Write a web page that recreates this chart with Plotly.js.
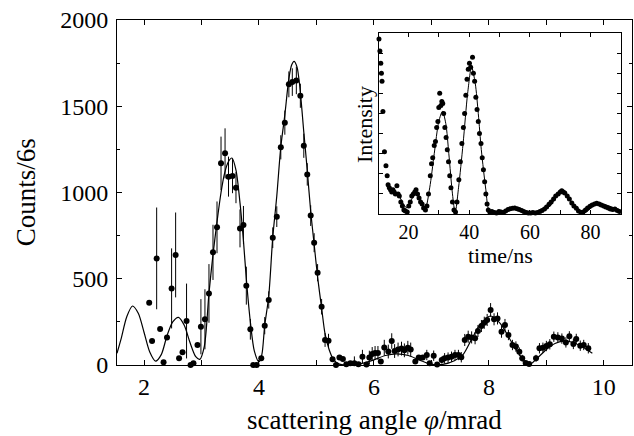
<!DOCTYPE html>
<html><head><meta charset="utf-8">
<script src="https://cdn.plot.ly/plotly-3.0.1.min.js"></script>
<style>body{margin:0;background:#fff}</style>
</head><body><div id="chart" style="width:634px;height:436px"></div>
<script>
// Main plot: measured counts vs scattering angle
const angleX = [2.09,2.14,2.22,2.28,2.34,2.40,2.48,2.55,2.61,2.67,2.74,2.81,2.86,2.93,2.99,3.06,3.13,3.20,3.27,3.34,3.41,3.47,3.54,3.60,3.67,3.73,3.78,3.85,3.90,3.96,4.04,4.10,4.17,4.24,4.31,4.38,4.45,4.52,4.58,4.65,4.72,4.78,4.84,4.90,4.96,5.02,5.09,5.15,5.21,5.28,5.34,5.40,5.46,5.52,5.59,5.66,5.73,5.80,5.87,5.92,5.97,6.02,6.07,6.12,6.18,6.25,6.31,6.36,6.42,6.48,6.53,6.59,6.64,6.72,6.78,6.85,6.92,6.97,7.04,7.10,7.18,7.23,7.29,7.35,7.41,7.47,7.52,7.58,7.64,7.70,7.76,7.81,7.87,7.92,7.97,8.03,8.09,8.15,8.22,8.28,8.34,8.41,8.47,8.53,8.58,8.64,8.70,8.82,8.88,8.94,9.00,9.06,9.13,9.20,9.27,9.34,9.40,9.47,9.52,9.59,9.65,9.73];
const counts = [361,139,618,209,16,160,444,638,39,74,255,0,10,116,222,265,415,653,798,1169,1227,1092,1096,1028,792,812,460,207,0,0,39,228,377,738,860,1262,1405,1627,1640,1650,1561,1271,1105,866,709,535,338,145,141,33,0,44,35,4,10,10,5,48,3,43,64,70,70,20,101,78,139,81,90,95,85,100,90,20,43,43,58,10,54,3,29,39,43,48,58,58,45,145,164,160,155,197,226,245,261,319,265,270,193,232,174,116,107,77,39,12,6,39,97,100,110,120,164,160,153,131,166,122,151,112,116,97];
const countErr = [0,0,295,0,0,0,232,246,0,0,217,0,0,0,160,174,170,160,150,155,145,116,100,90,110,110,110,60,0,0,0,50,50,60,60,70,70,75,80,80,70,70,65,60,55,50,45,40,40,0,0,0,0,0,0,40,0,40,0,40,40,40,40,0,45,40,45,40,40,40,40,40,40,0,0,0,30,0,30,0,20,30,30,30,30,30,30,35,35,35,35,35,35,35,35,40,35,35,35,35,30,30,30,25,20,0,0,20,30,30,30,30,30,30,30,30,30,30,30,30,30,30];
// Main plot: fitted curve
const fitX = [1.53,1.60,1.70,1.80,1.90,2.00,2.10,2.20,2.30,2.40,2.50,2.60,2.70,2.80,2.90,2.97,3.05,3.13,3.20,3.27,3.34,3.40,3.47,3.53,3.60,3.67,3.73,3.78,3.85,3.92,4.00,4.05,4.10,4.17,4.24,4.31,4.38,4.45,4.52,4.57,4.61,4.66,4.71,4.78,4.84,4.90,4.96,5.02,5.09,5.15,5.22,5.30,5.40,5.50,5.60,5.80,6.00,6.20,6.40,6.60,6.80,7.00,7.20,7.40,7.55,7.70,7.85,8.03,8.20,8.40,8.60,8.72,8.84,9.00,9.15,9.30,9.45,9.60,9.80];
const fitY = [68,150,280,342,300,190,75,22,60,170,250,276,230,130,48,33,110,415,640,830,1000,1110,1180,1200,1130,940,720,500,250,80,18,60,230,400,740,980,1265,1450,1660,1740,1760,1730,1615,1350,1130,890,700,510,330,180,90,30,5,0,2,10,30,55,64,55,28,4,4,25,60,150,235,284,240,130,30,5,39,90,125,138,132,110,68];
// Inset: time spectrum
const timeT = [10.3,10.6,10.9,11.1,11.3,11.6,12.1,12.6,13.0,13.3,13.7,14.1,14.5,14.9,15.3,15.7,16.2,16.6,17.0,17.5,18.0,18.5,19.0,19.6,20.1,20.6,21.1,21.6,22.1,22.5,23.0,23.5,24.0,24.5,25.0,25.6,26.1,26.6,27.2,27.6,28.0,28.5,28.9,29.3,29.7,30.0,30.3,30.7,31.0,31.3,31.6,32.0,32.4,32.8,33.2,33.6,34.0,34.5,35.0,35.5,36.0,36.6,37.1,37.6,38.1,38.5,38.9,39.3,39.7,40.1,40.5,41.1,41.4,41.8,42.2,42.6,43.0,43.4,43.9,44.3,44.7,45.1,45.5,45.9,46.3,46.8,47.5,48.3,49.0,49.8,50.5,51.3,52.0,52.8,53.5,54.3,55.0,55.8,56.5,57.3,58.0,58.8,59.5,60.3,61.0,61.8,62.5,63.3,64.0,64.8,65.5,66.3,67.0,67.8,68.5,69.3,70.0,70.5,71.0,71.5,72.3,73.0,73.8,74.5,75.3,76.0,76.8,77.5,78.3,79.0,79.8,80.5,81.3,82.0,82.8,83.5,84.3,85.0,85.8,86.5,87.3,88.0,88.8,89.5];
const intensity = [8.7,8.1,7.5,7.0,6.6,5.1,3.1,2.4,1.9,1.45,1.3,1.2,1.1,1.2,1.1,1.0,1.4,1.0,0.9,0.6,0.4,0.2,0.15,0.1,0.4,0.6,0.9,1.0,1.1,1.2,1.0,0.8,0.6,0.5,0.3,0.2,0.4,1.0,1.9,2.5,2.8,3.4,3.6,4.3,4.6,5.3,6.0,5.4,5.6,5.5,5.0,4.3,3.8,3.2,2.6,1.9,1.3,0.6,0.2,0.1,0.6,1.7,2.6,3.5,4.3,5.0,5.9,6.7,7.2,7.5,7.3,7.8,7.0,6.6,5.8,5.2,4.6,4.0,3.5,2.8,2.2,1.6,1.0,0.5,0.2,0.1,0.12,0.08,0.05,0.12,0.1,0.08,0.15,0.22,0.26,0.28,0.3,0.26,0.22,0.18,0.12,0.08,0.05,0.05,0.08,0.05,0.08,0.12,0.18,0.25,0.35,0.48,0.6,0.75,0.9,1.0,1.1,1.15,1.1,1.05,0.9,0.75,0.55,0.4,0.28,0.15,0.08,0.1,0.2,0.3,0.38,0.45,0.5,0.53,0.5,0.45,0.4,0.35,0.3,0.25,0.22,0.25,0.18,0.12];
// Inset: fitted curve
const fitT = [17.0,19.5,22.5,25.5,27.0,28.5,30.0,31.2,32.3,33.3,34.5,35.4,36.5,38.0,39.5,40.8,42.0,43.0,44.0,45.5,46.5,48.0,52.0,55.0,58.0,62.0,66.0,69.0,70.5,72.5,76.0,78.0,81.0,83.5,87.0,90.0];
const fitI = [0.9,0.3,1.1,0.3,1.3,3.0,4.6,5.1,4.5,3.0,1.0,0.07,1.3,3.5,6.0,7.3,6.5,5.0,3.2,1.2,0.2,0.05,0.1,0.28,0.12,0.05,0.3,0.9,1.1,0.8,0.15,0.05,0.4,0.5,0.35,0.15];

const SERIF = 'Liberation Serif, Times New Roman, serif';
const data = [
  {x: fitX, y: fitY, mode: 'lines', line: {color: '#000', width: 1.2, shape: 'spline', smoothing: 0.8}, xaxis: 'x', yaxis: 'y', hoverinfo: 'skip', cliponaxis: true},
  {x: angleX, y: counts, mode: 'markers', marker: {color: '#000', size: 6},
   error_y: {type: 'data', array: countErr, visible: true, width: 0, thickness: 1, color: '#000'},
   xaxis: 'x', yaxis: 'y', cliponaxis: false},
  {x: fitT, y: fitI, mode: 'lines', line: {color: '#000', width: 1, shape: 'spline', smoothing: 0.8}, xaxis: 'x2', yaxis: 'y2', hoverinfo: 'skip'},
  {x: timeT, y: intensity, mode: 'markers', marker: {color: '#000', size: 5}, xaxis: 'x2', yaxis: 'y2', cliponaxis: false}
];
const axCommon = {showline: true, linecolor: '#000', linewidth: 1, mirror: 'ticks', ticks: 'inside', tickcolor: '#000', ticklen: 5, tickwidth: 1, showgrid: false, zeroline: false};
const layout = {
  width: 634, height: 436,
  margin: {l: 117, r: 2, t: 20, b: 71},
  paper_bgcolor: '#fff', plot_bgcolor: '#fff',
  showlegend: false,
  font: {family: SERIF, color: '#000'},
  xaxis: Object.assign({}, axCommon, {domain: [0, 1], range: [1.53, 10.49], tick0: 0, dtick: 2,
    minor: {dtick: 1, ticks: 'inside', ticklen: 5, tickcolor: '#000'},
    tickfont: {family: SERIF, size: 24}, anchor: 'y'}),
  yaxis: Object.assign({}, axCommon, {domain: [0, 1], range: [0, 2000], dtick: 500,
    minor: {dtick: 250, ticks: 'inside', ticklen: 3, tickcolor: '#000'},
    tickfont: {family: SERIF, size: 24}, anchor: 'x', ticklabelstandoff: 3}),
  xaxis2: Object.assign({}, axCommon, {domain: [0.5087, 0.9786], range: [10.3, 90], tick0: 0, dtick: 20,
    minor: {dtick: 10, ticks: 'inside', ticklen: 4, tickcolor: '#000'}, ticklen: 4,
    tickfont: {family: SERIF, size: 20}, anchor: 'y2'}),
  yaxis2: Object.assign({}, axCommon, {domain: [0.4377, 0.9623], range: [0, 9], dtick: 1, ticklen: 4,
    showticklabels: false, anchor: 'x2'}),
  annotations: [
    {text: 'Counts/6s', xref: 'paper', yref: 'paper', x: -0.177, y: 0.5, textangle: -90, showarrow: false,
     xanchor: 'center', yanchor: 'middle', font: {family: SERIF, size: 27}},
    {text: 'scattering angle <i>φ</i>/mrad', xref: 'paper', yref: 'paper', x: 0.5, y: -0.16, showarrow: false,
     xanchor: 'center', yanchor: 'middle', font: {family: SERIF, size: 27}},
    {text: 'Intensity', xref: 'paper', yref: 'paper', x: 0.4816, y: 0.6957, textangle: -90, showarrow: false,
     xanchor: 'center', yanchor: 'middle', font: {family: SERIF, size: 22}},
    {text: 'time/ns', xref: 'paper', yref: 'paper', x: 0.7437, y: 0.316, showarrow: false,
     xanchor: 'center', yanchor: 'middle', font: {family: SERIF, size: 22}}
  ]
};
Plotly.newPlot('chart', data, layout, {staticPlot: true, displayModeBar: false});
</script>
</body></html>
